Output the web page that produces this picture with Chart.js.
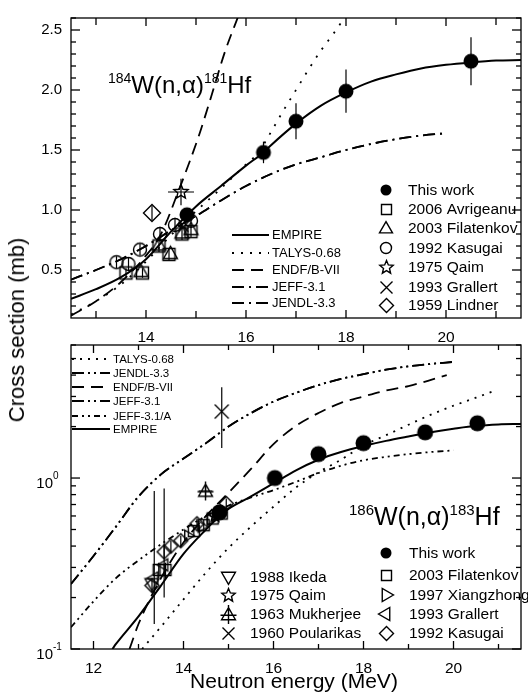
<!DOCTYPE html>
<html>
<head>
<meta charset="utf-8">
<script src="https://cdn.jsdelivr.net/npm/chart.js@4.4.1/dist/chart.umd.min.js"></script>
<style>
  body { margin: 0; background: #fff; }
  #wrap { position: relative; width: 528px; height: 695px; font-family: "Liberation Sans", Arial, Helvetica, sans-serif; color: #000; }
  #wrap canvas { position: absolute; left: 0; }
  #topChart { top: 0; }
  #botChart { top: 338px; }
  .ytitle { position: absolute; left: 17px; top: 330px; transform: translate(-50%, -50%) rotate(-90deg); font-size: 22px; white-space: nowrap; }
  .xtitle { position: absolute; left: 294px; top: 681px; transform: translate(-50%, -50%); font-size: 21px; white-space: nowrap; }
</style>
</head>
<body>
<div id="wrap">
  <canvas id="topChart" width="528" height="350"></canvas>
  <canvas id="botChart" width="528" height="357"></canvas>
  <div class="ytitle">Cross section (mb)</div>
  <div class="xtitle">Neutron energy (MeV)</div>
</div>
<script>
// --- TICKS ---
const topXTicks = [14, 16, 18, 20];
const topXMinor = [13, 15, 17, 19, 21];
const topYTicks = [0.5, 1.0, 1.5, 2.0, 2.5];
const topYMinor = [0.2, 0.3, 0.4, 0.6, 0.7, 0.8, 0.9, 1.1, 1.2, 1.3, 1.4, 1.6, 1.7, 1.8, 1.9, 2.1, 2.2, 2.3, 2.4, 2.6];
const botXTicks = [12, 14, 16, 18, 20];
const botXMinor = [13, 15, 17, 19, 21];
const botYTicks = [0.1, 1];
const botYMinor = [0.2, 0.3, 0.4, 0.5, 0.6, 0.7, 0.8, 0.9, 2, 3, 4, 5, 6];

// --- TOP PANEL: 184W(n,a)181Hf ---
const topEmpireE  = [12.5, 13, 13.5, 14, 14.5, 15, 15.5, 16, 16.35, 16.5, 17, 17.5, 18, 18.5, 19, 19.5, 20, 20.5, 21, 21.5];
const topEmpireXS = [0.26, 0.34, 0.44, 0.59, 0.82, 1.03, 1.2, 1.37, 1.48, 1.54, 1.72, 1.87, 1.98, 2.07, 2.13, 2.18, 2.21, 2.23, 2.245, 2.25];
const topTalysE   = [12.5, 13, 13.5, 14, 14.5, 15, 15.5, 16, 16.25, 16.5, 16.75, 17, 17.25, 17.5, 17.75, 18];
const topTalysXS  = [0.13, 0.24, 0.38, 0.57, 0.79, 0.99, 1.18, 1.38, 1.48, 1.65, 1.83, 2.0, 2.17, 2.33, 2.47, 2.62];
const topEndfE    = [12.5, 13, 13.5, 14, 14.3, 14.66, 15.05, 15.3, 15.58, 15.85];
const topEndfXS   = [0.12, 0.24, 0.4, 0.62, 0.8, 1.17, 1.61, 1.94, 2.32, 2.62];
const topJeffE    = [12.5, 13, 13.5, 14, 14.5, 15, 15.5, 16, 16.5, 17, 17.5, 18, 18.5, 19, 19.5, 20];
const topJeffXS   = [0.42, 0.5, 0.59, 0.7, 0.83, 0.95, 1.08, 1.2, 1.3, 1.38, 1.44, 1.5, 1.55, 1.59, 1.62, 1.64];
const topJendlE   = [12.5, 13, 13.5, 14, 14.5, 15, 15.5, 16, 16.5, 17, 17.5, 18, 18.5, 19, 19.5, 20];
const topJendlXS  = [0.42, 0.5, 0.59, 0.7, 0.83, 0.95, 1.08, 1.2, 1.3, 1.38, 1.44, 1.5, 1.55, 1.59, 1.62, 1.64];

const topWorkE    = [14.82, 16.35, 17.0, 18.0, 20.5];
const topWorkXS   = [0.96, 1.48, 1.74, 1.99, 2.24];
const topWorkErr  = [0.05, 0.09, 0.15, 0.18, 0.2];
const avrigeanuE  = [13.6, 13.93, 14.26, 14.46, 14.72, 14.9];
const avrigeanuXS = [0.475, 0.475, 0.7, 0.63, 0.8, 0.82];
const avrigeanuErr = [0.04, 0.04, 0.05, 0.05, 0.05, 0.05];
const filTopE     = [13.9, 14.26, 14.49, 14.72, 14.9];
const filTopXS    = [0.49, 0.71, 0.64, 0.81, 0.84];
const kasTopE     = [13.41, 13.65, 13.88, 14.28, 14.58, 14.9];
const kasTopXS    = [0.565, 0.55, 0.67, 0.8, 0.875, 0.91];
const kasTopErr   = [0.05, 0.05, 0.05, 0.06, 0.06, 0.06];
const qaimTopE    = [14.7];
const qaimTopXS   = [1.15];
const qaimTopErr  = [0.11];
const qaimTopEErr = [0.26];
const grallTopE   = [14.75];
const grallTopXS  = [0.86];
const lindnerE    = [14.12];
const lindnerXS   = [0.975];
const lindnerErr  = [0.06];

// --- BOTTOM PANEL: 186W(n,a)183Hf ---
const botTalysE   = [13.08, 13.5, 14, 14.5, 15, 15.5, 16, 16.5, 17, 17.5, 18, 18.5, 19, 19.5, 20, 20.5, 20.86];
const botTalysXS  = [0.1, 0.135, 0.195, 0.28, 0.39, 0.52, 0.68, 0.88, 1.08, 1.28, 1.55, 1.78, 2.05, 2.35, 2.65, 2.95, 3.2];
const botJendlE   = [11.5, 12, 12.5, 13, 13.5, 14, 14.5, 15, 15.5, 16, 16.5, 17, 17.5, 18, 18.5, 19, 19.5, 20];
const botJendlXS  = [0.24, 0.35, 0.52, 0.78, 1.05, 1.3, 1.6, 2.0, 2.4, 2.8, 3.15, 3.5, 3.8, 4.05, 4.3, 4.5, 4.65, 4.78];
const botEndfE    = [12.8, 13, 13.5, 14, 14.5, 15, 15.5, 16, 16.5, 17, 17.5, 18, 18.5, 19, 19.5, 19.85];
const botEndfXS   = [0.1, 0.14, 0.26, 0.42, 0.6, 0.82, 1.13, 1.58, 2.02, 2.4, 2.75, 3.0, 3.25, 3.45, 3.75, 4.0];
const botJeffE    = [11.5, 12, 12.5, 13, 13.5, 14, 14.5, 15, 15.5, 16, 16.5, 17, 17.5, 18, 18.5, 19, 19.5, 20];
const botJeffXS   = [0.24, 0.35, 0.52, 0.78, 1.05, 1.3, 1.6, 2.0, 2.4, 2.8, 3.15, 3.5, 3.8, 4.05, 4.3, 4.5, 4.65, 4.78];
const botJeffAE   = [11.5, 12, 12.5, 13, 13.5, 14, 14.5, 15, 15.5, 16, 16.5, 17, 17.5, 18, 18.5, 19, 19.5, 20];
const botJeffAXS  = [0.134, 0.19, 0.26, 0.33, 0.41, 0.5, 0.6, 0.69, 0.77, 0.85, 0.95, 1.07, 1.18, 1.27, 1.33, 1.38, 1.42, 1.45];
const botEmpireE  = [12.42, 12.5, 13, 13.5, 14, 14.5, 14.8, 15, 15.5, 16, 16.5, 17, 17.5, 18, 18.5, 19, 19.5, 20, 20.5, 21, 21.5];
const botEmpireXS = [0.1, 0.107, 0.155, 0.235, 0.36, 0.5, 0.6, 0.66, 0.78, 0.93, 1.11, 1.28, 1.42, 1.54, 1.65, 1.75, 1.85, 1.94, 2.02, 2.06, 2.07];

const botWorkE    = [14.8, 16.03, 17.0, 18.0, 19.37, 20.53];
const botWorkXS   = [0.63, 1.0, 1.38, 1.6, 1.85, 2.09];
const botWorkErr  = [0.04, 0.07, 0.09, 0.1, 0.11, 0.12];
const filBotE     = [13.45, 13.6, 14.23, 14.45, 14.65, 14.85];
const filBotXS    = [0.29, 0.29, 0.49, 0.53, 0.58, 0.62];
const filBotErr   = [0.03, 0.03, 0.04, 0.04, 0.04, 0.04];
const xiangE      = [14.1, 14.4, 14.6, 14.75];
const xiangXS     = [0.46, 0.52, 0.57, 0.61];
const grallBotE   = [13.35, 13.57];
const grallBotXS  = [0.26, 0.31];
const grallBotLo  = [0.14, 0.2];
const grallBotHi  = [0.84, 0.87];
const kasBotE     = [13.3, 13.57, 13.72, 13.94, 14.3, 14.95];
const kasBotXS    = [0.235, 0.37, 0.4, 0.43, 0.54, 0.71];
const kasBotErr   = [0.02, 0.03, 0.03, 0.03, 0.04, 0.05];
const ikedaE      = [13.3];
const ikedaXS     = [0.24];
const qaimBotE    = [14.7];
const qaimBotXS   = [0.6];
const mukE        = [14.49];
const mukXS       = [0.84];
const mukErr      = [0.07];
const mukEErr     = [0.15];
const poulE       = [14.85];
const poulXS      = [2.45];
const poulLo      = [1.5];
const poulHi      = [3.4];

const FONT = '"Liberation Sans", Arial, Helvetica, sans-serif';

// --- MARKERS ---
function makeMarker(kind, r, lw) {
  lw = lw || 1.4;
  const s = Math.ceil(2 * r + 2 * lw + 4);
  const c = document.createElement('canvas');
  c.width = s; c.height = s;
  const g = c.getContext('2d');
  g.translate(s / 2, s / 2);
  g.lineWidth = lw; g.strokeStyle = '#000'; g.fillStyle = '#000';
  g.beginPath();
  if (kind === 'dot') { g.arc(0, 0, r, 0, Math.PI * 2); g.fill(); return c; }
  if (kind === 'circle') g.arc(0, 0, r, 0, Math.PI * 2);
  if (kind === 'square') g.rect(-r, -r, 2 * r, 2 * r);
  if (kind === 'diamond') { g.moveTo(0, -r); g.lineTo(r, 0); g.lineTo(0, r); g.lineTo(-r, 0); g.closePath(); }
  if (kind === 'cross') { g.moveTo(-r, -r); g.lineTo(r, r); g.moveTo(r, -r); g.lineTo(-r, r); }
  const dirs = { triUp: -90, triDown: 90, triLeft: 180, triRight: 0, triCross: -90 };
  if (kind in dirs) {
    const a0 = dirs[kind] * Math.PI / 180;
    const dy = (kind === 'triUp' || kind === 'triCross') ? r * 0.15 : kind === 'triDown' ? -r * 0.15 : 0;
    for (let k = 0; k < 3; k++) {
      const a = a0 + k * 2 * Math.PI / 3;
      const px = Math.cos(a) * r, py = Math.sin(a) * r + dy;
      k === 0 ? g.moveTo(px, py) : g.lineTo(px, py);
    }
    g.closePath();
    if (kind === 'triCross') { g.moveTo(0, -r * 1.2); g.lineTo(0, r * 1.2); g.moveTo(-r, 0.1 * r); g.lineTo(r, 0.1 * r); }
  }
  if (kind === 'star') {
    for (let k = 0; k < 10; k++) {
      const a = -Math.PI / 2 + k * Math.PI / 5;
      const rr = k % 2 ? r * 0.45 : r;
      k === 0 ? g.moveTo(Math.cos(a) * rr, Math.sin(a) * rr) : g.lineTo(Math.cos(a) * rr, Math.sin(a) * rr);
    }
    g.closePath();
  }
  g.stroke();
  return c;
}

const M = {
  dotTop: makeMarker('dot', 7.5), dotBot: makeMarker('dot', 8),
  square: makeMarker('square', 6), circle: makeMarker('circle', 6.5), triUp: makeMarker('triUp', 8),
  star: makeMarker('star', 7.5), cross: makeMarker('cross', 5), diamond: makeMarker('diamond', 8.5),
  sqB: makeMarker('square', 5.5), diaB: makeMarker('diamond', 7), triDownB: makeMarker('triDown', 8),
  triLeftB: makeMarker('triLeft', 7), triRightB: makeMarker('triRight', 6.5), starB: makeMarker('star', 6.5),
  triCrossB: makeMarker('triCross', 8), crossB: makeMarker('cross', 7),
  // legend symbols
  lDot: makeMarker('dot', 5.5), lSquare: makeMarker('square', 5), lCircle: makeMarker('circle', 5.5),
  lTriUp: makeMarker('triUp', 7.5), lStar: makeMarker('star', 7), lCross: makeMarker('cross', 6),
  lDiamond: makeMarker('diamond', 7), lTriDown: makeMarker('triDown', 8), lTriLeft: makeMarker('triLeft', 7.5),
  lTriRight: makeMarker('triRight', 7.5), lTriCross: makeMarker('triCross', 8)
};

// --- HELPERS ---
function pts(E, XS) { return E.map((e, i) => ({ x: e, y: XS[i] })); }
function curve(label, E, XS, dash, w) {
  return { label, data: pts(E, XS), showLine: true, pointRadius: 0, pointHoverRadius: 0,
           borderColor: '#000', borderWidth: w || 1.8, borderDash: dash, borderCapStyle: 'butt',
           cubicInterpolationMode: 'monotone', order: 2 };
}
function marks(label, E, XS, img, err) {
  return { label, data: pts(E, XS), showLine: false, pointStyle: img, pointRadius: 6,
           pointHoverRadius: 6, order: 1, err: err || null };
}

const errorBars = {
  id: 'errorBars',
  beforeDatasetsDraw(chart) {
    const { ctx, chartArea: a } = chart;
    const xs = chart.scales.x, ys = chart.scales.y;
    ctx.save();
    ctx.beginPath(); ctx.rect(a.left, a.top, a.right - a.left, a.bottom - a.top); ctx.clip();
    ctx.strokeStyle = '#000'; ctx.lineWidth = 1.2;
    chart.data.datasets.forEach(ds => {
      const e = ds.err;
      if (!e) return;
      ds.data.forEach((p, i) => {
        const px = xs.getPixelForValue(p.x), py = ys.getPixelForValue(p.y);
        let lo = null, hi = null;
        if (e.lo) { lo = e.lo[i]; hi = e.hi[i]; }
        else if (e.y) { lo = p.y - e.y[i]; hi = p.y + e.y[i]; }
        ctx.beginPath();
        if (lo !== null) { ctx.moveTo(px, ys.getPixelForValue(lo)); ctx.lineTo(px, ys.getPixelForValue(hi)); }
        if (e.x) { ctx.moveTo(xs.getPixelForValue(p.x - e.x[i]), py); ctx.lineTo(xs.getPixelForValue(p.x + e.x[i]), py); }
        ctx.stroke();
      });
    });
    ctx.restore();
  }
};

function drawReaction(ctx, x, base, parts, big, small) {
  ctx.textBaseline = 'alphabetic'; ctx.textAlign = 'left';
  parts.forEach(([t, sup]) => {
    ctx.font = (sup ? small : big) + 'px ' + FONT;
    ctx.fillText(t, x, sup ? base - big * 0.42 : base);
    x += ctx.measureText(t).width;
  });
}

// frame, inner ticks, legends, labels
const deco = {
  id: 'deco',
  afterDraw(chart, args, o) {
    const { ctx, chartArea: a } = chart;
    const xs = chart.scales.x, ys = chart.scales.y;
    ctx.save();
    ctx.strokeStyle = '#000'; ctx.fillStyle = '#000'; ctx.lineWidth = 1.3;
    ctx.strokeRect(a.left, a.top, a.right - a.left, a.bottom - a.top);
    const seg = (x0, y0, x1, y1) => { ctx.beginPath(); ctx.moveTo(x0, y0); ctx.lineTo(x1, y1); ctx.stroke(); };
    const xt = (vals, len) => vals.forEach(v => { const p = xs.getPixelForValue(v); seg(p, a.bottom, p, a.bottom - len); seg(p, a.top, p, a.top + len); });
    const yt = (vals, len) => vals.forEach(v => { const p = ys.getPixelForValue(v); seg(a.left, p, a.left + len, p); seg(a.right, p, a.right - len, p); });
    xt(o.xMajor, 8); xt(o.xMinor, o.xMinorLen || 5); yt(o.yMajor, 9); yt(o.yMinor, 5);

    if (o.logLabels) {
      o.yMajor.forEach(v => {
        const p = ys.getPixelForValue(v);
        ctx.font = '15px ' + FONT; ctx.textAlign = 'right'; ctx.textBaseline = 'middle';
        ctx.fillText('10', 53, p + 6);
        ctx.font = '10px ' + FONT; ctx.textAlign = 'left';
        ctx.fillText(String(Math.round(Math.log10(v))), 53, p - 2);
      });
    }

    const ll = o.lineLegend;
    ctx.textAlign = 'left'; ctx.textBaseline = 'middle'; ctx.font = ll.font + 'px ' + FONT;
    ll.items.forEach((it, i) => {
      const r = ll.rows[i];
      ctx.lineWidth = 1.8; ctx.setLineDash(it.dash);
      seg(ll.x0, r, ll.x1, r);
      ctx.setLineDash([]);
      ctx.fillText(it.label, ll.tx, r + 0.5);
    });

    ctx.font = '15.5px ' + FONT;
    o.markLegends.forEach(ml => {
      ml.items.forEach((it, i) => {
        const r = ml.rows[i], img = it.marker;
        ctx.drawImage(img, Math.round(ml.sx - img.width / 2), Math.round(r - img.height / 2));
        ctx.fillText(it.label, ml.tx, r + 1);
      });
    });

    const rc = o.reaction;
    drawReaction(ctx, rc.x, rc.y, rc.parts, rc.big, rc.small);
    ctx.restore();
  }
};

function axisX(min, max, ticks) {
  return {
    type: 'linear', min, max,
    grid: { display: false, drawTicks: false }, border: { display: false },
    afterBuildTicks: s => { s.ticks = ticks.map(v => ({ value: v })); },
    ticks: { color: '#000', font: { size: 15.5, family: FONT }, padding: 10, maxRotation: 0, autoSkip: false }
  };
}

const DOT = [2, 8], DOTB = [2, 6], DASH = [12, 7], DDOT = [12, 5, 2, 5], DDDOT = [12, 4, 2, 4, 2, 4], SDDOT = [6, 4, 2, 4, 2, 4];

// --- TOP CHART ---
new Chart(document.getElementById('topChart'), {
  type: 'scatter',
  data: {
    datasets: [
      curve('EMPIRE', topEmpireE, topEmpireXS, [], 2),
      curve('TALYS-0.68', topTalysE, topTalysXS, DOT),
      curve('ENDF/B-VII', topEndfE, topEndfXS, DASH),
      curve('JEFF-3.1', topJeffE, topJeffXS, DDOT),
      curve('JENDL-3.3', topJendlE, topJendlXS, DDOT),
      marks('This work', topWorkE, topWorkXS, M.dotTop, { y: topWorkErr }),
      marks('2006 Avrigeanu', avrigeanuE, avrigeanuXS, M.square, { y: avrigeanuErr }),
      marks('2003 Filatenkov', filTopE, filTopXS, M.triUp),
      marks('1992 Kasugai', kasTopE, kasTopXS, M.circle, { y: kasTopErr }),
      marks('1975 Qaim', qaimTopE, qaimTopXS, M.star, { y: qaimTopErr, x: qaimTopEErr }),
      marks('1993 Grallert', grallTopE, grallTopXS, M.cross),
      marks('1959 Lindner', lindnerE, lindnerXS, M.diamond, { y: lindnerErr })
    ]
  },
  options: {
    responsive: false, animation: false,
    layout: { padding: { left: 0, right: 2, top: 13, bottom: 0 } },
    scales: {
      x: Object.assign(axisX(12.5, 21.5, topXTicks), { afterFit: s => { s.height = 32; } }),
      y: {
        type: 'linear', min: 0.1, max: 2.6,
        grid: { display: false, drawTicks: false }, border: { display: false },
        afterBuildTicks: s => { s.ticks = topYTicks.map(v => ({ value: v })); },
        ticks: { color: '#000', font: { size: 15, family: FONT }, padding: 9, callback: v => v.toFixed(1) },
        afterFit: s => { s.width = 71; }
      }
    },
    plugins: {
      legend: { display: false }, tooltip: { enabled: false },
      deco: {
        xMajor: topXTicks, xMinor: topXMinor, xMinorLen: 7, yMajor: topYTicks, yMinor: topYMinor,
        lineLegend: {
          x0: 232, x1: 269, tx: 272, font: 13, rows: [235, 253, 270, 287, 303],
          items: [
            { label: 'EMPIRE', dash: [] }, { label: 'TALYS-0.68', dash: [2, 7] }, { label: 'ENDF/B-VII', dash: DASH },
            { label: 'JEFF-3.1', dash: DDOT }, { label: 'JENDL-3.3', dash: DDOT }
          ]
        },
        markLegends: [{
          sx: 386, tx: 408, rows: [190, 209, 228, 248, 267, 287, 305],
          items: [
            { label: 'This work', marker: M.lDot }, { label: '2006 Avrigeanu', marker: M.lSquare },
            { label: '2003 Filatenkov', marker: M.lTriUp }, { label: '1992 Kasugai', marker: M.lCircle },
            { label: '1975 Qaim', marker: M.lStar }, { label: '1993 Grallert', marker: M.lCross },
            { label: '1959 Lindner', marker: M.lDiamond }
          ]
        }],
        reaction: { x: 108, y: 93, big: 24, small: 14, parts: [['184', true], ['W(n,\u03b1)', false], ['181', true], ['Hf', false]] }
      }
    }
  },
  plugins: [errorBars, deco]
});

// --- BOTTOM CHART ---
new Chart(document.getElementById('botChart'), {
  type: 'scatter',
  data: {
    datasets: [
      curve('TALYS-0.68', botTalysE, botTalysXS, DOTB),
      curve('JENDL-3.3', botJendlE, botJendlXS, DDDOT),
      curve('ENDF/B-VII', botEndfE, botEndfXS, DASH),
      curve('JEFF-3.1', botJeffE, botJeffXS, DDDOT),
      curve('JEFF-3.1/A', botJeffAE, botJeffAXS, SDDOT),
      curve('EMPIRE', botEmpireE, botEmpireXS, [], 2),
      marks('This work', botWorkE, botWorkXS, M.dotBot, { y: botWorkErr }),
      marks('2003 Filatenkov', filBotE, filBotXS, M.sqB, { y: filBotErr }),
      marks('1997 Xiangzhong', xiangE, xiangXS, M.triRightB),
      marks('1993 Grallert', grallBotE, grallBotXS, M.triLeftB, { lo: grallBotLo, hi: grallBotHi }),
      marks('1992 Kasugai', kasBotE, kasBotXS, M.diaB, { y: kasBotErr }),
      marks('1988 Ikeda', ikedaE, ikedaXS, M.triDownB),
      marks('1975 Qaim', qaimBotE, qaimBotXS, M.starB),
      marks('1963 Mukherjee', mukE, mukXS, M.triCrossB, { y: mukErr, x: mukEErr }),
      marks('1960 Poularikas', poulE, poulXS, M.crossB, { lo: poulLo, hi: poulHi })
    ]
  },
  options: {
    responsive: false, animation: false,
    layout: { padding: { left: 0, right: 2, top: 6, bottom: 0 } },
    scales: {
      x: Object.assign(axisX(11.5, 21.5, botXTicks), { afterFit: s => { s.height = 46; } }),
      y: {
        type: 'logarithmic', min: 0.1, max: 6,
        grid: { display: false, drawTicks: false }, border: { display: false },
        afterBuildTicks: s => { s.ticks = botYTicks.map(v => ({ value: v })); },
        ticks: { display: false },
        afterFit: s => { s.width = 71; }
      }
    },
    plugins: {
      legend: { display: false }, tooltip: { enabled: false },
      deco: {
        xMajor: botXTicks, xMinor: botXMinor, yMajor: botYTicks, yMinor: botYMinor, logLabels: true,
        lineLegend: {
          x0: 72, x1: 110, tx: 113, font: 11.5, rows: [21, 35, 49, 63, 78, 91],
          items: [
            { label: 'TALYS-0.68', dash: DOTB }, { label: 'JENDL-3.3', dash: DDDOT }, { label: 'ENDF/B-VII', dash: DASH },
            { label: 'JEFF-3.1', dash: DDDOT }, { label: 'JEFF-3.1/A', dash: SDDOT }, { label: 'EMPIRE', dash: [] }
          ]
        },
        markLegends: [{
          sx: 228, tx: 250, rows: [239, 257, 276, 295],
          items: [
            { label: '1988 Ikeda', marker: M.lTriDown }, { label: '1975 Qaim', marker: M.lStar },
            { label: '1963 Mukherjee', marker: M.lTriCross }, { label: '1960 Poularikas', marker: M.lCross }
          ]
        }, {
          sx: 386, tx: 409, rows: [215, 237, 257, 276, 295],
          items: [
            { label: 'This work', marker: M.lDot }, { label: '2003 Filatenkov', marker: M.lSquare },
            { label: '1997 Xiangzhong', marker: M.lTriRight }, { label: '1993 Grallert', marker: M.lTriLeft },
            { label: '1992 Kasugai', marker: M.lDiamond }
          ]
        }],
        reaction: { x: 349, y: 187, big: 25, small: 15, parts: [['186', true], ['W(n,\u03b1)', false], ['183', true], ['Hf', false]] }
      }
    }
  },
  plugins: [errorBars, deco]
});
</script>
</body>
</html>
